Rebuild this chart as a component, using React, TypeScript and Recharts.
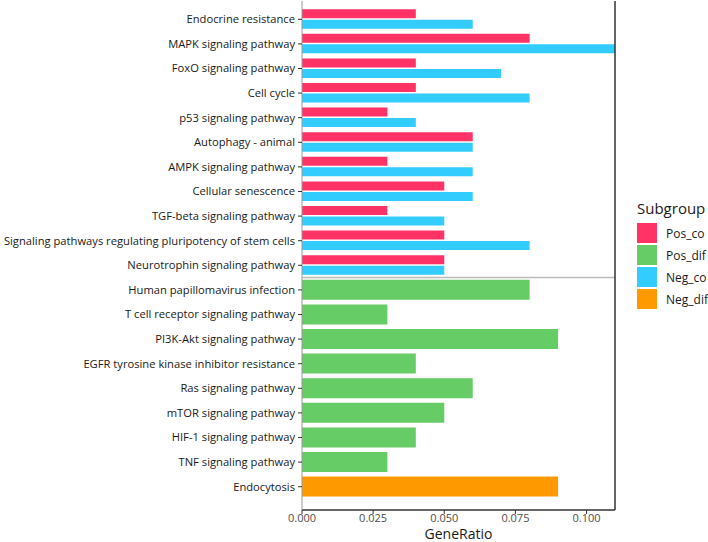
import {
  BarChart, Bar, XAxis, YAxis, ReferenceLine,
} from 'recharts';

// pathways, top to bottom
const PATHWAYS = [
  'Endocrine resistance',
  'MAPK signaling pathway',
  'FoxO signaling pathway',
  'Cell cycle',
  'p53 signaling pathway',
  'Autophagy - animal',
  'AMPK signaling pathway',
  'Cellular senescence',
  'TGF-beta signaling pathway',
  'Signaling pathways regulating pluripotency of stem cells',
  'Neurotrophin signaling pathway',
  'Human papillomavirus infection',
  'T cell receptor signaling pathway',
  'PI3K-Akt signaling pathway',
  'EGFR tyrosine kinase inhibitor resistance',
  'Ras signaling pathway',
  'mTOR signaling pathway',
  'HIF-1 signaling pathway',
  'TNF signaling pathway',
  'Endocytosis',
];

const POS_CO = [0.04, 0.08, 0.04, 0.04, 0.03, 0.06, 0.03, 0.05, 0.03, 0.05, 0.05, null, null, null, null, null, null, null, null, null];
const NEG_CO = [0.06, 0.11, 0.07, 0.08, 0.04, 0.06, 0.06, 0.06, 0.05, 0.08, 0.05, null, null, null, null, null, null, null, null, null];
const POS_DIF = [null, null, null, null, null, null, null, null, null, null, null, 0.08, 0.03, 0.09, 0.04, 0.06, 0.05, 0.04, 0.03, null];
const NEG_DIF = [null, null, null, null, null, null, null, null, null, null, null, null, null, null, null, null, null, null, null, 0.09];

const X_TICKS = [0, 0.025, 0.05, 0.075, 0.1];
const X_MAX = 0.11;

const SUBGROUPS = ['Pos_co', 'Pos_dif', 'Neg_co', 'Neg_dif'];
const COLORS: Record<string, string> = {
  Pos_co: '#FF3366',
  Pos_dif: '#66CC66',
  Neg_co: '#33CCFF',
  Neg_dif: '#FF9900',
};

const data = PATHWAYS.map((name, i) => ({
  name,
  Pos_co: POS_CO[i],
  Neg_co: NEG_CO[i],
  Pos_dif: POS_DIF[i],
  Neg_dif: NEG_DIF[i],
}));

const FONT = '"Open Sans", "Noto Sans", sans-serif';
const Y_PAD = { top: 6, bottom: 11 };

// plain one-line tick, no wrapping of the long names
// eslint-disable-next-line @typescript-eslint/no-explicit-any
const PathwayTick = ({ x, y, payload }: any) => (
  <text x={x - 1} y={y} dy="0.355em" textAnchor="end" fontSize={11.2} fill="#1a1a1a" fontFamily={FONT}>
    {payload.value}
  </text>
);

const App = () => (
  <div style={{ position: 'absolute', left: 0, top: 0, width: 708, height: 542, background: '#fff', fontFamily: FONT }}>
    <BarChart
      width={708}
      height={542}
      data={data}
      layout="vertical"
      margin={{ top: 1, right: 93, left: 0, bottom: 0 }}
      barCategoryGap="9%"
      barGap={1.5}
    >
      <XAxis
        xAxisId="a"
        type="number"
        domain={[0, X_MAX]}
        ticks={X_TICKS}
        allowDataOverflow
        tickFormatter={(v: number) => v.toFixed(3)}
        tick={{ fontSize: 11, fill: '#4d4d4d', fontFamily: FONT }}
        tickSize={4}
        tickMargin={0}
        tickLine={{ stroke: '#333' }}
        axisLine={{ stroke: '#333', strokeWidth: 1.5 }}
        height={32}
        label={{ value: 'GeneRatio', position: 'insideBottom', offset: 3, fontSize: 14, fill: '#1a1a1a', fontFamily: FONT }}
      />
      <XAxis
        xAxisId="top"
        orientation="top"
        type="number"
        domain={[0, X_MAX]}
        height={0}
        tick={false}
        tickLine={false}
        axisLine={{ stroke: '#999' }}
      />
      <YAxis
        yAxisId="main"
        type="category"
        dataKey="name"
        width={302}
        interval={0}
        padding={Y_PAD}
        tick={<PathwayTick />}
        tickSize={4}
        tickMargin={2}
        tickLine={{ stroke: '#333' }}
        axisLine={{ stroke: '#999' }}
      />
      <YAxis yAxisId="dif" type="category" dataKey="name" hide width={0} padding={Y_PAD} />

      <Bar xAxisId="a" yAxisId="main" dataKey="Pos_co" name="Pos_co" fill={COLORS.Pos_co} isAnimationActive={false} />
      <Bar xAxisId="a" yAxisId="main" dataKey="Neg_co" name="Neg_co" fill={COLORS.Neg_co} isAnimationActive={false} />
      <Bar xAxisId="a" yAxisId="dif" dataKey="Pos_dif" name="Pos_dif" stackId="dif" fill={COLORS.Pos_dif} isAnimationActive={false} />
      <Bar xAxisId="a" yAxisId="dif" dataKey="Neg_dif" name="Neg_dif" stackId="dif" fill={COLORS.Neg_dif} isAnimationActive={false} />

      {/* divider between the two blocks of pathways */}
      <ReferenceLine xAxisId="a" yAxisId="main" y="Human papillomavirus infection" position="start" stroke="#bbb" strokeWidth={1.5} />
      <ReferenceLine xAxisId="a" yAxisId="main" x={X_MAX} stroke="#333" strokeWidth={1.5} />
    </BarChart>

    <div style={{ position: 'absolute', left: 637, top: 198, color: '#1a1a1a' }}>
      <div style={{ fontSize: 15, lineHeight: '20px', marginBottom: 4 }}>Subgroup</div>
      {SUBGROUPS.map(s => (
        <div key={s} style={{ display: 'flex', alignItems: 'center', height: 22 }}>
          <span style={{ width: 20, height: 20, background: COLORS[s], display: 'inline-block', marginRight: 9 }} />
          <span style={{ fontSize: 12 }}>{s}</span>
        </div>
      ))}
    </div>
  </div>
);

export default App;
